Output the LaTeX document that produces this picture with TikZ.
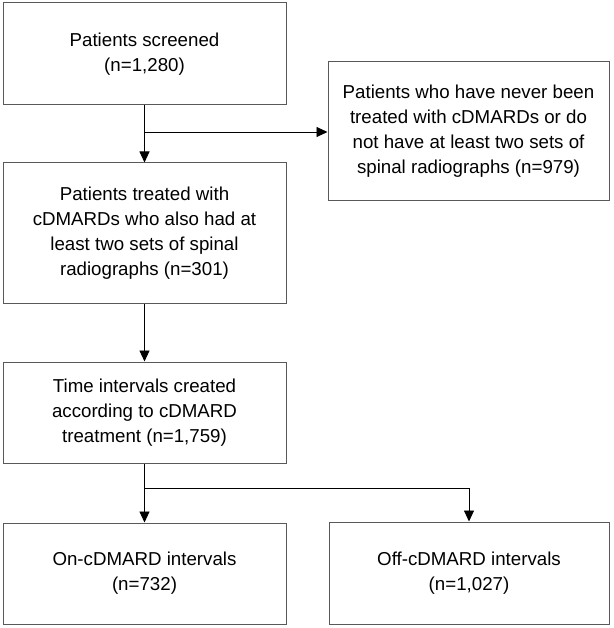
\documentclass[tikz,border=0pt]{standalone}
\usepackage{fontspec}
\setmainfont{Liberation Sans}
\usetikzlibrary{arrows.meta}
\begin{document}
\begin{tikzpicture}[x=1pt,y=-1pt,
	box/.style={draw=black!65,line width=1pt,inner sep=0pt,align=center,
		font=\fontsize{18.7}{25}\selectfont},
	link/.style={line width=0.9pt,-{Triangle[width=10pt,length=11pt]}}]
	\useasboundingbox (0,0) rectangle (613,628);
	\node [box,minimum width=283,minimum height=102] (screened) at (144.5,54)
		{Patients screened\\(n=1,280)};
	\node [box,minimum width=281,minimum height=139] (excluded) at (468.5,131.5)
		{Patients who have never been\\treated with cDMARDs or do\\not have at least two sets of\\spinal radiographs (n=979)};
	\node [box,minimum width=283,minimum height=140] (treated) at (144.5,233)
		{Patients treated with\\cDMARDs who also had at\\least two sets of spinal\\radiographs (n=301)};
	\node [box,minimum width=283,minimum height=101] (intervals) at (144.5,412.5)
		{Time intervals created\\according to cDMARD\\treatment (n=1,759)};
	\node [box,minimum width=283,minimum height=101] (on) at (144.5,573.5)
		{On-cDMARD intervals\\(n=732)};
	\node [box,minimum width=280,minimum height=102] (off) at (469,573)
		{Off-cDMARD intervals\\(n=1,027)};
	\coordinate (split1) at (144.5,132);
	\coordinate (split2) at (144.5,488);
	\draw [link] (screened) -- (treated);
	\draw [link] (split1) -- (split1 -| excluded.west);
	\draw [link] (treated) -- (intervals);
	\draw [link] (intervals) -- (on);
	\draw [link] (split2) -| (off);
\end{tikzpicture}
\end{document}
